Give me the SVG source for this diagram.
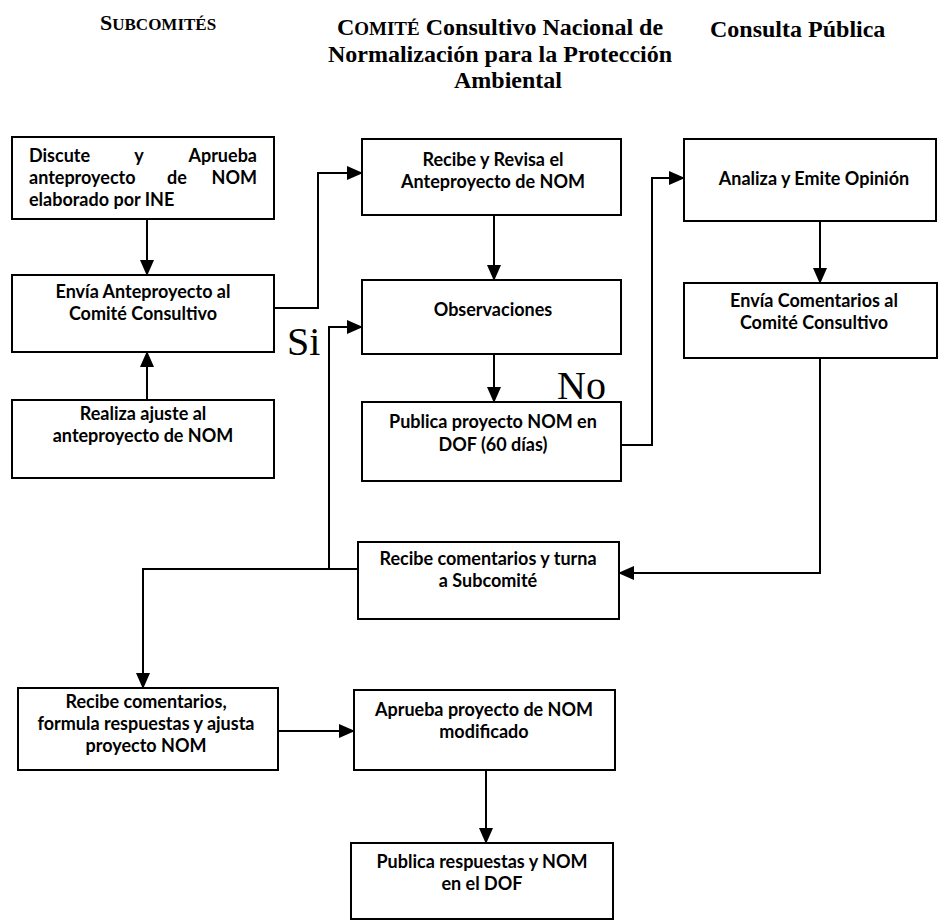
<svg xmlns="http://www.w3.org/2000/svg" width="948" height="922" viewBox="0 0 948 922">
<style>
.hd{font-family:"Liberation Serif","Times New Roman",serif;font-weight:bold;font-size:24px;fill:#000}
.box{fill:#fff;stroke:#000;stroke-width:2}
.t{font-family:Lato,"Liberation Sans",sans-serif;font-weight:bold;font-size:18px;fill:#000;text-anchor:middle}
.tl{font-family:Lato,"Liberation Sans",sans-serif;font-weight:bold;font-size:18px;fill:#000}
.big{font-family:"Liberation Serif","Times New Roman",serif;font-size:40px;fill:#000}
.c{fill:none;stroke:#000;stroke-width:2}
</style>
<defs>
<marker id="ah" markerUnits="userSpaceOnUse" markerWidth="16" markerHeight="14" refX="15" refY="7" orient="auto">
<path d="M0,0 L16,7 L0,14 Z" fill="#000"/>
</marker>
</defs>
<g id="headers">
<text class="hd" x="100" y="30"><tspan font-size="22">S</tspan><tspan font-size="17">UBCOMITÉS</tspan></text>
<text class="hd" x="500" y="35" text-anchor="middle"><tspan font-size="24">C</tspan><tspan font-size="19">OMITÉ</tspan> Consultivo Nacional de</text>
<text class="hd" x="500" y="62" text-anchor="middle">Normalización para la Protección</text>
<text class="hd" x="508" y="88" text-anchor="middle">Ambiental</text>
<text class="hd" x="710" y="37">Consulta Pública</text>
</g>
<g id="connectors">
<path class="c" d="M147,219 L147,275" marker-end="url(#ah)"/>
<path class="c" d="M147,400 L147,352" marker-end="url(#ah)"/>
<path class="c" d="M274,308 L318,308 L318,173 L362,173" marker-end="url(#ah)"/>
<path class="c" d="M494,215 L494,280" marker-end="url(#ah)"/>
<path class="c" d="M494,354 L494,402" marker-end="url(#ah)"/>
<path class="c" d="M621,445 L652,445 L652,178 L684,178" marker-end="url(#ah)"/>
<path class="c" d="M820,221 L820,283" marker-end="url(#ah)"/>
<path class="c" d="M820,358 L820,573 L619,573" marker-end="url(#ah)"/>
<path class="c" d="M358,569 L329,569 L329,327 L362,327" marker-end="url(#ah)"/>
<path class="c" d="M329,569 L143,569 L143,688" marker-end="url(#ah)"/>
<path class="c" d="M278,731 L354,731" marker-end="url(#ah)"/>
<path class="c" d="M486,770 L486,843" marker-end="url(#ah)"/>
</g>
<g id="labels">
<text class="big" x="287" y="355">Si</text>
<text class="big" x="557" y="399">No</text>
</g>
<g id="n1">
<rect class="box" x="12" y="137" width="262" height="82"/>
<text class="tl" y="162"><tspan x="29">Discute</tspan><tspan x="139" text-anchor="middle">y</tspan><tspan x="257" text-anchor="end">Aprueba</tspan></text>
<text class="tl" y="184"><tspan x="29">anteproyecto</tspan><tspan x="177" text-anchor="middle">de</tspan><tspan x="257" text-anchor="end">NOM</tspan></text>
<text class="tl" x="29" y="206">elaborado por INE</text>
</g>
<g id="n2">
<rect class="box" x="12" y="275" width="262" height="77"/>
<text class="t" x="143" y="298">Envía Anteproyecto al</text>
<text class="t" x="143" y="320">Comité Consultivo</text>
</g>
<g id="n3">
<rect class="box" x="12" y="400" width="262" height="78"/>
<text class="t" x="143" y="420">Realiza ajuste al</text>
<text class="t" x="143" y="442">anteproyecto de NOM</text>
</g>
<g id="n4">
<rect class="box" x="362" y="139" width="259" height="76"/>
<text class="t" x="493" y="166">Recibe y Revisa el</text>
<text class="t" x="493" y="188">Anteproyecto de NOM</text>
</g>
<g id="n5">
<rect class="box" x="362" y="280" width="259" height="74"/>
<text class="t" x="493" y="316">Observaciones</text>
</g>
<g id="n6">
<rect class="box" x="362" y="402" width="259" height="79"/>
<text class="t" x="493" y="428">Publica proyecto NOM en</text>
<text class="t" x="493" y="451">DOF (60 días)</text>
</g>
<g id="n7">
<rect class="box" x="684" y="139" width="252" height="82"/>
<text class="t" x="814" y="185">Analiza y Emite Opinión</text>
</g>
<g id="n8">
<rect class="box" x="684" y="283" width="253" height="75"/>
<text class="t" x="814" y="307">Envía Comentarios al</text>
<text class="t" x="814" y="329">Comité Consultivo</text>
</g>
<g id="n9">
<rect class="box" x="358" y="542" width="261" height="77"/>
<text class="t" x="488" y="565">Recibe comentarios y turna</text>
<text class="t" x="488" y="587">a Subcomité</text>
</g>
<g id="n10">
<rect class="box" x="18" y="688" width="260" height="82"/>
<text class="t" x="146" y="708">Recibe comentarios,</text>
<text class="t" x="146" y="730">formula respuestas y ajusta</text>
<text class="t" x="146" y="752">proyecto NOM</text>
</g>
<g id="n11">
<rect class="box" x="354" y="690" width="261" height="80"/>
<text class="t" x="484" y="716">Aprueba proyecto de NOM</text>
<text class="t" x="484" y="738">modificado</text>
</g>
<g id="n12">
<rect class="box" x="351" y="843" width="262" height="76"/>
<text class="t" x="482" y="868">Publica respuestas y NOM</text>
<text class="t" x="482" y="890">en el DOF</text>
</g>
</svg>
